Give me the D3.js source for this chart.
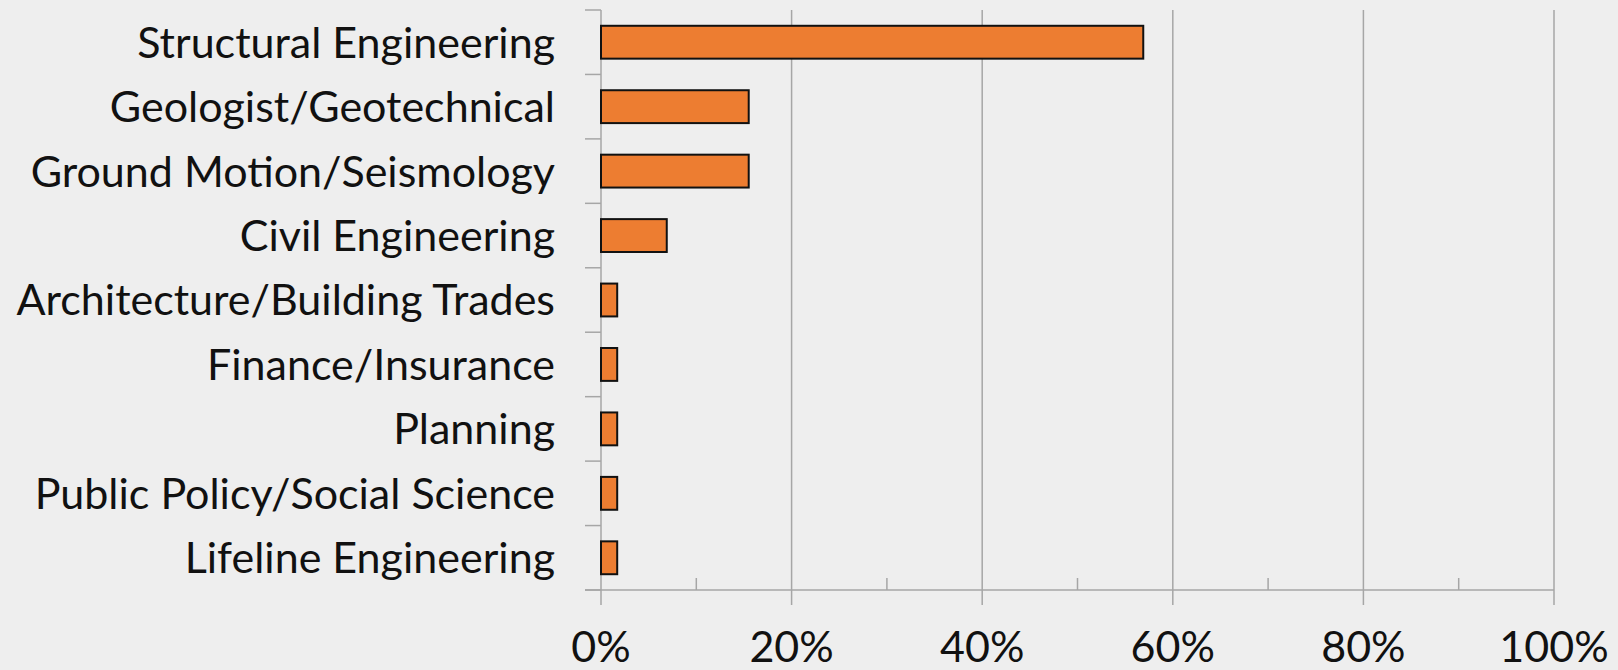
<!DOCTYPE html>
<html>
<head>
<meta charset="utf-8">
<script src="https://cdn.jsdelivr.net/npm/d3@7.9.0/dist/d3.min.js"></script>
<style>
  html, body { margin: 0; padding: 0; background: #eeeeee; }
  svg { display: block; }
  text { font-family: Lato, "Open Sans", sans-serif; fill: #111; }
</style>
</head>
<body>
<svg width="1618" height="670"></svg>
<script>
const categories = [
  "Structural Engineering",
  "Geologist/Geotechnical",
  "Ground Motion/Seismology",
  "Civil Engineering",
  "Architecture/Building Trades",
  "Finance/Insurance",
  "Planning",
  "Public Policy/Social Science",
  "Lifeline Engineering"
];
const shares = [0.569, 0.155, 0.155, 0.069, 0.017, 0.017, 0.017, 0.017, 0.017];
const majorTicks = [0, 0.2, 0.4, 0.6, 0.8, 1];
const minorTicks = [0.1, 0.3, 0.5, 0.7, 0.9];

const svg = d3.select("svg");
const gridColor = "#a6a6a6";

const x = d3.scaleLinear().domain([0, 1]).range([601, 1554]);
const y = d3.scaleBand().domain(categories).range([10, 590])
  .paddingInner(0.49).paddingOuter(0.245);
const step = y.step();
const plotTop = y.range()[0], plotBottom = y.range()[1];

// vertical gridlines (incl. the value axis at 0), running below the baseline
svg.append("g").selectAll("line").data(majorTicks).join("line")
  .attr("x1", d => x(d)).attr("x2", d => x(d))
  .attr("y1", plotTop).attr("y2", plotBottom + 15)
  .attr("stroke", gridColor).attr("stroke-width", 1.5);

// baseline
svg.append("line")
  .attr("x1", x(0) - 16).attr("x2", x(1))
  .attr("y1", plotBottom).attr("y2", plotBottom)
  .attr("stroke", gridColor).attr("stroke-width", 1.5);

// minor ticks pointing up from baseline
svg.append("g").selectAll("line").data(minorTicks).join("line")
  .attr("x1", d => x(d)).attr("x2", d => x(d))
  .attr("y1", plotBottom - 12).attr("y2", plotBottom)
  .attr("stroke", gridColor).attr("stroke-width", 1.5);

// category boundary ticks
svg.append("g").selectAll("line").data(d3.range(categories.length + 1)).join("line")
  .attr("x1", x(0) - 16).attr("x2", x(0))
  .attr("y1", k => plotTop + k * step).attr("y2", k => plotTop + k * step)
  .attr("stroke", gridColor).attr("stroke-width", 1.5);

// bars
svg.append("g").selectAll("rect").data(categories).join("rect")
  .attr("x", x(0))
  .attr("y", c => y(c))
  .attr("width", (c, i) => x(shares[i]) - x(0))
  .attr("height", y.bandwidth())
  .attr("fill", "#ed7d31")
  .attr("stroke", "#111")
  .attr("stroke-width", 2);

// category labels
svg.append("g").selectAll("text").data(categories).join("text")
  .attr("x", 555)
  .attr("y", c => y(c) + y.bandwidth() / 2)
  .attr("dy", "0.36em")
  .attr("text-anchor", "end")
  .attr("font-size", 43)
  .text(c => c);

// value tick labels
svg.append("g").selectAll("text").data(majorTicks).join("text")
  .attr("x", d => x(d))
  .attr("y", 662)
  .attr("text-anchor", "middle")
  .attr("font-size", 43)
  .text(d => d3.format(".0%")(d));
</script>
</body>
</html>
